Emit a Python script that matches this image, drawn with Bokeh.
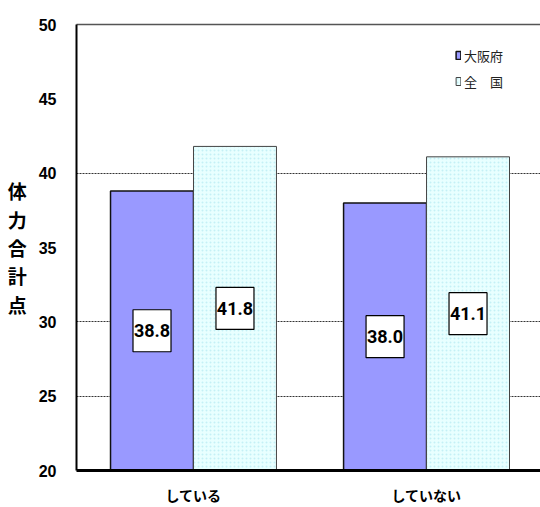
from bokeh.plotting import figure
from bokeh.models import (ColumnDataSource, Range1d, FixedTicker, LinearAxis,
                          Legend, LegendItem)
from bokeh.core.properties import value
from bokeh.embed import file_html
from bokeh.resources import INLINE

categories = ["している", "していない"]
osaka = [38.8, 38.0]
zenkoku = [41.8, 41.1]
series_names = ["大阪府", "全　国"]
y_ticks = [20, 25, 30, 35, 40, 45, 50]
grid_ticks = [25, 30, 40]
y_title = "体力合計点"

xs = [i + 1 for i in range(len(categories))]
off = 0.178
bw = 0.356

src_o = ColumnDataSource(dict(x=[v - off for v in xs], top=osaka,
                              ly=[(20 + v) / 2 for v in osaka],
                              txt=[f"{v:.1f}" for v in osaka]))
src_z = ColumnDataSource(dict(x=[v + off for v in xs], top=zenkoku,
                              ly=[(20 + v) / 2 for v in zenkoku],
                              txt=[f"{v:.1f}" for v in zenkoku]))

p = figure(width=540, height=507, output_backend="svg", toolbar_location=None,
           x_range=Range1d(0.498, 2.489), y_range=Range1d(20, 50),
           min_border_left=76, min_border_right=0, min_border_top=24, min_border_bottom=37)
p.outline_line_color = None
p.background_fill_color = "white"
p.border_fill_color = "white"

# grid
p.xgrid.visible = False
p.ygrid.ticker = FixedTicker(ticks=grid_ticks)
p.ygrid.grid_line_color = "#333333"
p.ygrid.grid_line_dash = "2 1"
p.ygrid.grid_line_width = 1

# bars
r_o = p.vbar(x="x", top="top", bottom=20, width=bw, source=src_o,
             fill_color="#9999FF", line_color="#111111", line_width=1.5)
r_z = p.vbar(x="x", top="top", bottom=20, width=bw, source=src_z,
             fill_color="#E8FFFF", hatch_pattern="dot", hatch_color="#C4F0F6",
             hatch_scale=4, hatch_weight=1, line_color="#444444", line_width=1)

# value label boxes
for src in (src_o, src_z):
    p.rect(x="x", y="ly", width=38, height=42, width_units="screen", height_units="screen",
           source=src, fill_color="white", line_color="black", line_width=1.2)
    p.text(x="x", y="ly", text="txt", source=src, text_align="center", text_baseline="middle",
           text_font=value("Roboto"), text_font_size="18px", text_color="#000000",
           text_font_style="bold")

# axes
ya = p.yaxis[0]
ya.ticker = FixedTicker(ticks=y_ticks)
ya.major_tick_out = 0
ya.major_tick_in = 0
ya.minor_tick_out = 0
ya.minor_tick_in = 0
ya.axis_line_color = "black"
ya.axis_line_width = 2
ya.major_label_standoff = 20
ya.major_label_text_font = "Liberation Sans"
ya.major_label_text_font_style = "bold"
ya.major_label_text_font_size = "16px"
ya.major_label_text_color = "black"
ya.axis_label = "\n".join(y_title)
ya.axis_label_orientation = "horizontal"
ya.axis_label_standoff = 9
ya.axis_label_text_font = "Noto Sans CJK JP"
ya.axis_label_text_font_style = "bold"
ya.axis_label_text_font_size = "19px"
ya.axis_label_text_line_height = 1.05
ya.axis_label_text_color = "black"

xa = p.xaxis[0]
xa.ticker = FixedTicker(ticks=xs)
xa.major_label_overrides = {x: c for x, c in zip(xs, categories)}
xa.major_tick_out = 0
xa.major_tick_in = 0
xa.minor_tick_out = 0
xa.minor_tick_in = 0
xa.axis_line_color = "black"
xa.axis_line_width = 3
xa.major_label_standoff = 14
xa.major_label_text_font = "Noto Sans CJK JP"
xa.major_label_text_font_style = "bold"
xa.major_label_text_font_size = "14px"
xa.major_label_text_color = "black"

top_ax = LinearAxis(major_tick_out=0, major_tick_in=0, minor_tick_out=0, minor_tick_in=0,
                    major_label_text_font_size="0px", axis_line_color="#555555",
                    axis_line_width=1.5, ticker=FixedTicker(ticks=[]))
p.add_layout(top_ax, "above")

legend = Legend(items=[LegendItem(label=series_names[0], renderers=[r_o]),
                       LegendItem(label=series_names[1], renderers=[r_z])],
                location=(379, 377), orientation="vertical",
                label_text_font="Noto Sans CJK JP", label_text_font_size="13px",
                label_text_color="#222222", glyph_width=6, glyph_height=10,
                label_height=24, spacing=2, padding=5, margin=0, label_standoff=3,
                border_line_color=None, background_fill_alpha=0)
p.add_layout(legend)

open("out.html", "w").write(file_html(p, INLINE))
